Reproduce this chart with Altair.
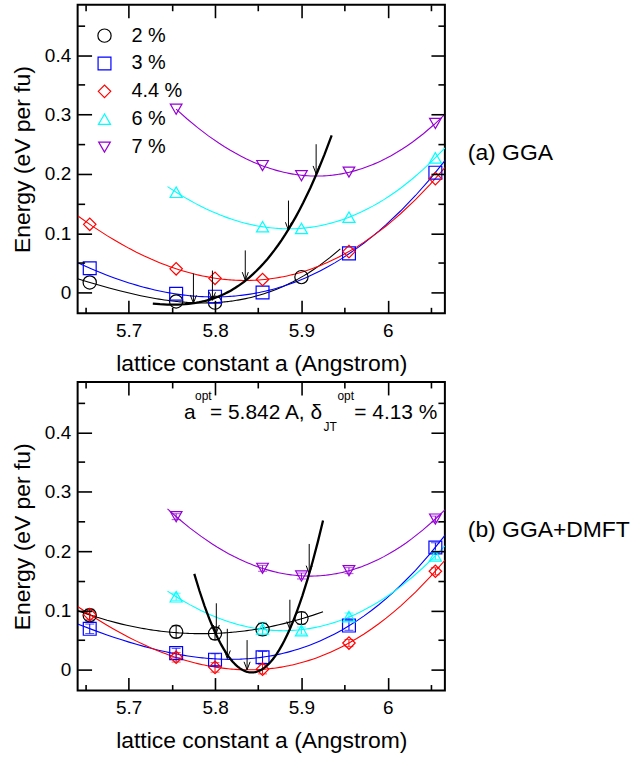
import altair as alt
import pandas as pd

FONT = "Liberation Sans"

SERIES = ["2 %", "3 %", "4.4 %", "6 %", "7 %"]
COLORS = ["#000000", "#0000ff", "#ff0000", "#00ffff", "#9400d3"]
SHAPES = ["circle", "square", "diamond", "triangle-up", "triangle-down"]
SIZES = [177, 137, 180, 178, 178]

# ---------------- (a) GGA : energy (eV per fu) vs lattice constant a ----------------
GGA_A_2 = [5.655, 5.755, 5.8, 5.9]
GGA_E_2 = [0.017, -0.015, -0.017, 0.026]
GGA_A_3 = [5.655, 5.755, 5.8, 5.855, 5.955, 6.055]
GGA_E_3 = [0.041, -0.002, -0.007, 0.0, 0.066, 0.202]
GGA_A_44 = [5.655, 5.755, 5.8, 5.855, 5.955, 6.055]
GGA_E_44 = [0.115, 0.040, 0.024, 0.022, 0.069, 0.192]
GGA_A_6 = [5.755, 5.855, 5.9, 5.955, 6.055]
GGA_E_6 = [0.169, 0.111, 0.108, 0.127, 0.227]
GGA_A_7 = [5.755, 5.855, 5.9, 5.955, 6.055]
GGA_E_7 = [0.309, 0.214, 0.197, 0.203, 0.285]
GGA_FIT_RANGE = [[5.641, 5.945], [5.641, 6.066], [5.641, 6.066], [5.745, 6.066], [5.755, 6.066]]

# minima of the fitted curves (arrows)
GGA_MIN_A = [5.775, 5.797, 5.835, 5.885, 5.917]
GGA_MIN_E = [-0.018, -0.013, 0.021, 0.105, 0.200]
# thick curve through the minima
GGA_CURVE_A = [5.728, 5.775, 5.797, 5.835, 5.885, 5.917, 5.935]
GGA_CURVE_E = [-0.019, -0.017, -0.012, 0.021, 0.105, 0.200, 0.264]

# ---------------- (b) GGA+DMFT ----------------
DMFT_A_2 = [5.655, 5.755, 5.8, 5.855, 5.9]
DMFT_E_2 = [0.092, 0.064, 0.061, 0.068, 0.087]
DMFT_ERR_2 = [0.010, 0.010, 0.010, 0.010, 0.010]
DMFT_A_3 = [5.655, 5.755, 5.8, 5.855, 5.955, 6.055]
DMFT_E_3 = [0.069, 0.028, 0.017, 0.021, 0.0745, 0.206]
DMFT_ERR_3 = [0.008, 0.008, 0.010, 0.010, 0.008, 0.008]
DMFT_A_44 = [5.655, 5.755, 5.8, 5.855, 5.955, 6.055]
DMFT_E_44 = [0.093, 0.021, 0.004, 0.001, 0.045, 0.166]
DMFT_ERR_44 = [0.008, 0.008, 0.008, 0.008, 0.006, 0.006]
DMFT_A_6 = [5.755, 5.855, 5.9, 5.955, 6.055]
DMFT_E_6 = [0.123, 0.069, 0.066, 0.0896, 0.192]
DMFT_ERR_6 = [0.006, 0.011, 0.006, 0.006, 0.006]
DMFT_A_7 = [5.755, 5.855, 5.9, 5.955, 6.055]
DMFT_E_7 = [0.258, 0.171, 0.158, 0.167, 0.254]
DMFT_ERR_7 = [0.005, 0.005, 0.005, 0.005, 0.005]
DMFT_FIT_RANGE = [[5.641, 5.925], [5.641, 6.066], [5.641, 6.066], [5.745, 6.066], [5.745, 6.066]]

DMFT_MIN_A = [5.8015, 5.8142, 5.8371, 5.8866, 5.909]
DMFT_MIN_E = [0.062, 0.019, 0.0, 0.068, 0.162]
DMFT_CURVE_RANGE = [5.776, 5.925]

X_TICKS_MAJOR = [5.7, 5.8, 5.9, 6.0]
X_TICKS_MINOR = [5.65, 5.75, 5.85, 5.95, 6.05]
Y_TICKS_MAJOR = [0.0, 0.1, 0.2, 0.3, 0.4]
Y_TICKS_MINOR = [0.05, 0.15, 0.25, 0.35, 0.45]

X_DOM = [5.641, 6.066]
Y_DOM = [-0.035, 0.485]
W, H = 369, 310
ARROW_LEN = 0.05

XSCALE = alt.Scale(domain=X_DOM, nice=False, zero=False)
YSCALE = alt.Scale(domain=Y_DOM, nice=False, zero=False)
XTITLE = "lattice constant a (Angstrom)"
YTITLE = "Energy (eV per fu)"


def X(field="a"):
    return alt.X(f"{field}:Q", scale=XSCALE, axis=None)


def Y(field="e"):
    return alt.Y(f"{field}:Q", scale=YSCALE, axis=None)


def axis_layers():
    """Invisible carrier layers, one per axis: inward ticks on all four sides
    (negative offset pulls each tick row inside the frame)."""
    layers = []
    specs = [
        ("x", "bottom", X_TICKS_MAJOR, 13, True),
        ("x", "bottom", X_TICKS_MINOR, 6, False),
        ("x", "top", X_TICKS_MAJOR, 13, False),
        ("x", "top", X_TICKS_MINOR, 6, False),
        ("y", "left", Y_TICKS_MAJOR, 14, True),
        ("y", "left", Y_TICKS_MINOR, 7, False),
        ("y", "right", Y_TICKS_MAJOR, 14, False),
        ("y", "right", Y_TICKS_MINOR, 7, False),
    ]
    for ch, orient, vals, ln, main in specs:
        kw = dict(orient=orient, values=vals, ticks=True, tickSize=ln, tickWidth=1.6,
                  tickColor="black", offset=-ln, domain=False, grid=False, zindex=1,
                  labels=main)
        if main:
            if ch == "x":
                kw.update(labelExpr="datum.value == 6 ? '6' : format(datum.value, '.1f')",
                          labelPadding=8, titlePadding=12)
            else:
                kw.update(labelExpr="datum.value == 0 ? '0' : format(datum.value, '.1f')",
                          labelPadding=7, titlePadding=10)
            kw.update(labelFont=FONT, labelFontSize=19, labelColor="black",
                      titleFont=FONT, titleFontSize=23, titleFontWeight="normal",
                      titleColor="black")
        ax = alt.Axis(**kw)
        if ch == "x":
            df = pd.DataFrame({"a": vals, "e": [Y_DOM[0]] * len(vals)})
            xe = alt.X("a:Q", scale=XSCALE, axis=ax, title=XTITLE if main else None)
            ye = alt.Y("e:Q", scale=YSCALE, axis=None)
        else:
            df = pd.DataFrame({"a": [X_DOM[0]] * len(vals), "e": vals})
            xe = alt.X("a:Q", scale=XSCALE, axis=None)
            ye = alt.Y("e:Q", scale=YSCALE, axis=ax, title=YTITLE if main else None)
        layers.append(alt.Chart(df).mark_point(opacity=0).encode(x=xe, y=ye))
    return layers


def panel(a_lists, e_lists, err_lists, fit_ranges, min_a, min_e, curve_a, curve_e,
          curve_range, curve_order, label, notes):
    frames = []
    for s, a, e in zip(SERIES, a_lists, e_lists):
        frames.append(pd.DataFrame({"a": a, "e": e, "s": s}))
    pts = pd.concat(frames, ignore_index=True)

    layers = axis_layers()
    # fitted curves
    for i, s in enumerate(SERIES):
        df = frames[i]
        order = 2 if i == 0 and len(df) == 5 else 3
        layers.append(
            alt.Chart(df)
            .transform_regression("a", "e", method="poly", order=order, extent=fit_ranges[i])
            .mark_line(color=COLORS[i], strokeWidth=1.1, clip=True)
            .encode(x=X(), y=Y())
        )
    # error bars
    if err_lists is not None:
        ef = []
        for s, a, e, r in zip(SERIES, a_lists, e_lists, err_lists):
            ef.append(pd.DataFrame({"a": a, "e": e, "r": r, "s": s}))
        edf = pd.concat(ef, ignore_index=True)
        cscale = alt.Scale(domain=SERIES, range=COLORS)
        base = alt.Chart(edf).transform_calculate(lo="datum.e - datum.r", hi="datum.e + datum.r")
        layers.append(
            base.mark_rule(strokeWidth=1).encode(
                x=X(), y=Y("lo"), y2="hi:Q",
                color=alt.Color("s:N", scale=cscale, legend=None))
        )
        for f in ("lo", "hi"):
            layers.append(
                base.mark_tick(orient="horizontal", size=9, thickness=1).encode(
                    x=X(), y=Y(f), color=alt.Color("s:N", scale=cscale, legend=None))
            )
    # markers with legend
    leg = alt.Legend(orient="none", legendX=17, legendY=21, title=None,
                     labelFont=FONT, labelFontSize=20, labelColor="black",
                     labelOffset=17, rowPadding=8, padding=0, symbolStrokeWidth=1.2)
    layers.append(
        alt.Chart(pts).mark_point(filled=False, strokeWidth=1.2, opacity=1).encode(
            x=X(), y=Y(),
            color=alt.Color("s:N", scale=alt.Scale(domain=SERIES, range=COLORS), legend=leg, title=None),
            shape=alt.Shape("s:N", scale=alt.Scale(domain=SERIES, range=SHAPES), legend=leg, title=None),
            size=alt.Size("s:N", scale=alt.Scale(domain=SERIES, range=SIZES), legend=leg, title=None),
        )
    )
    # thick curve through the minima
    cdf = pd.DataFrame({"a": curve_a, "e": curve_e})
    layers.append(
        alt.Chart(cdf)
        .transform_regression("a", "e", method="poly", order=curve_order, extent=curve_range)
        .mark_line(color="black", strokeWidth=2.3, clip=True)
        .encode(x=X(), y=Y())
    )
    # arrows
    mdf = pd.DataFrame({"a": min_a, "e": min_e})
    layers.append(
        alt.Chart(mdf).transform_calculate(top=f"datum.e + {ARROW_LEN}")
        .mark_rule(color="black", strokeWidth=1)
        .encode(x=X(), y=Y(), y2="top:Q")
    )
    layers.append(
        alt.Chart(mdf).mark_point(shape="M-0.38,-1L0,0L0.38,-1", size=256, filled=False,
                                  color="black", strokeWidth=1, opacity=1)
        .encode(x=X(), y=Y())
    )
    # side label
    layers.append(
        alt.Chart(pd.DataFrame({"t": [label]})).mark_text(
            font=FONT, fontSize=23, align="left", baseline="middle", color="black")
        .encode(text="t:N", x=alt.value(W + 23), y=alt.value(149))
    )
    for txt, px, py, fs in notes:
        layers.append(
            alt.Chart(pd.DataFrame({"t": [txt]})).mark_text(
                font=FONT, fontSize=fs, align="left", baseline="alphabetic", color="black")
            .encode(text="t:N", x=alt.value(px), y=alt.value(py))
        )
    return (
        alt.layer(*layers)
        .resolve_axis(x="independent", y="independent")
        .properties(width=W, height=H)
    )


top = panel(
    [GGA_A_2, GGA_A_3, GGA_A_44, GGA_A_6, GGA_A_7],
    [GGA_E_2, GGA_E_3, GGA_E_44, GGA_E_6, GGA_E_7],
    None, GGA_FIT_RANGE, GGA_MIN_A, GGA_MIN_E,
    GGA_CURVE_A, GGA_CURVE_E, [GGA_CURVE_A[0], GGA_CURVE_A[-1]], 3,
    "(a) GGA", [],
)

NOTES = [
    ("a", 107, 37, 21),
    ("opt", 118, 18, 12),
    ("= 5.842 A, δ", 133, 37, 21),
    ("JT", 247, 49, 12),
    ("opt", 261, 18, 12),
    ("= 4.13 %", 278, 37, 21),
]

bottom = panel(
    [DMFT_A_2, DMFT_A_3, DMFT_A_44, DMFT_A_6, DMFT_A_7],
    [DMFT_E_2, DMFT_E_3, DMFT_E_44, DMFT_E_6, DMFT_E_7],
    [DMFT_ERR_2, DMFT_ERR_3, DMFT_ERR_44, DMFT_ERR_6, DMFT_ERR_7],
    DMFT_FIT_RANGE, DMFT_MIN_A, DMFT_MIN_E,
    DMFT_MIN_A, DMFT_MIN_E, DMFT_CURVE_RANGE, 2,
    "(b) GGA+DMFT", NOTES,
)

chart = (
    alt.vconcat(top, bottom, spacing=4)
    .properties(padding={"left": 10, "top": 1, "right": 0, "bottom": 0}, background="white")
    .configure_view(stroke="black", strokeWidth=2)
    .resolve_scale(color="independent", shape="independent", size="independent")
)

chart.save("out.html", embed_options={"renderer": "svg", "actions": False})
